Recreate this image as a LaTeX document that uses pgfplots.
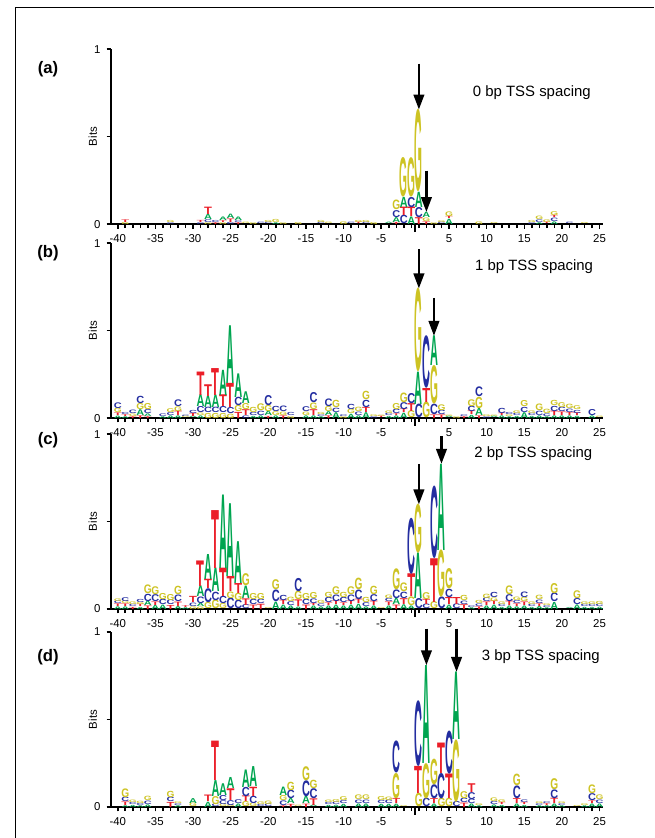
\documentclass[border=0pt]{standalone}
\usepackage{fontspec}
\setmainfont{Liberation Sans}
\usepackage{graphicx}
\usepackage{pgfplots}
\pgfplotsset{compat=1.18}
\usepackage{pgfplotstable}
\usetikzlibrary{arrows.meta}

\definecolor{cA}{RGB}{0,165,80}
\definecolor{cC}{RGB}{35,45,160}
\definecolor{cG}{RGB}{205,195,35}
\definecolor{cT}{RGB}{235,30,40}
\newcommand\logoA{\textcolor{cA}{A}}
\newcommand\logoC{\textcolor{cC}{C}}
\newcommand\logoG{\textcolor{cG}{G}}
\newcommand\logoT{\textcolor{cT}{T}}
\newlength\bitlen
\setlength\bitlen{3.5cm}
% letter/height -> letter stretched to height bits
\def\logoletter#1/#2\relax{\resizebox*{0.158cm}{#2\bitlen}{\bfseries\csname logo#1\endcsname}}

% columns: u = position index (-40..-1 -> 0..39, +1..+25 -> 40..64), b = base, h = height (bits), l = letter
\pgfplotstableread{
u b h l
1 0 0.012 G
1 0.012 0.015 T
7 0 0.01 C
7 0.01 0.012 G
11 0 0.01 C
11 0.01 0.012 T
12 0 0.01 G
12 0.01 0.016 C
12 0.026 0.03 A
12 0.056 0.042 T
13 0 0.01 T
13 0.01 0.012 C
14 0 0.01 G
14 0.01 0.01 T
14 0.02 0.02 A
15 0 0.012 C
15 0.012 0.02 T
15 0.032 0.025 A
16 0 0.01 T
16 0.01 0.01 C
16 0.02 0.02 A
17 0 0.008 G
18 0 0.01 G
19 0 0.008 C
20 0 0.008 C
20 0.008 0.012 G
21 0 0.01 A
21 0.01 0.018 G
22 0 0.01 G
24 0 0.012 G
27 0 0.008 C
27 0.008 0.012 G
28 0 0.008 G
30 0 0.015 G
31 0 0.008 C
32 0 0.008 T
32 0.008 0.012 G
33 0 0.008 C
33 0.008 0.012 G
34 0 0.012 G
36 0 0.008 A
37 0 0.012 T
37 0.012 0.028 A
37 0.04 0.04 C
37 0.08 0.055 G
38 0 0.048 C
38 0.048 0.048 T
38 0.096 0.058 A
38 0.154 0.226 G
39 0 0.043 A
39 0.043 0.054 T
39 0.097 0.058 C
39 0.155 0.225 G
40 0 0.039 T
40 0.039 0.058 C
40 0.097 0.087 A
40 0.184 0.471 G
41 0 0.015 T
41 0.015 0.02 G
41 0.035 0.03 A
42 0 0.01 G
43 0 0.008 C
43 0.008 0.01 G
44 0 0.03 A
44 0.03 0.012 T
44 0.042 0.027 G
48 0 0.015 G
50 0 0.006 G
55 0 0.01 C
55 0.01 0.012 G
56 0 0.01 A
56 0.01 0.015 C
56 0.025 0.02 G
57 0 0.008 T
57 0.008 0.015 G
58 0 0.015 A
58 0.015 0.02 C
58 0.035 0.012 T
58 0.047 0.022 G
60 0 0.008 C
62 0 0.006 G
}\dataA

\pgfplotstableread{
u b h l
0 0 0.014 A
0 0.014 0.015 T
0 0.029 0.025 G
0 0.054 0.033 C
1 0 0.01 A
1 0.01 0.01 T
1 0.02 0.012 C
2 0 0.01 T
2 0.01 0.014 G
2 0.024 0.02 C
3 0 0.015 T
3 0.015 0.033 A
3 0.048 0.035 G
3 0.083 0.042 C
4 0 0.01 T
4 0.01 0.015 A
4 0.025 0.023 C
4 0.048 0.035 G
6 0 0.01 A
6 0.01 0.015 C
7 0 0.015 A
7 0.015 0.017 C
7 0.032 0.022 G
8 0 0.015 A
8 0.015 0.025 T
8 0.04 0.027 G
8 0.067 0.039 C
9 0 0.008 G
9 0.008 0.008 C
10 0 0.008 A
10 0.008 0.018 T
10 0.026 0.018 C
11 0 0.015 A
11 0.015 0.014 G
11 0.029 0.035 C
11 0.064 0.067 A
11 0.131 0.134 T
12 0 0.029 G
12 0.029 0.031 C
12 0.06 0.065 A
12 0.125 0.067 T
13 0 0.029 G
13 0.029 0.031 C
13 0.06 0.071 A
13 0.131 0.154 T
14 0 0.029 G
14 0.029 0.035 C
14 0.064 0.067 T
14 0.131 0.144 A
15 0 0.025 G
15 0.025 0.035 C
15 0.06 0.138 T
15 0.198 0.33 A
16 0 0.035 T
16 0.035 0.035 G
16 0.07 0.048 C
16 0.118 0.135 A
17 0 0.015 C
17 0.015 0.033 T
17 0.048 0.035 G
17 0.083 0.067 A
18 0 0.012 A
18 0.012 0.018 C
18 0.03 0.03 G
19 0 0.015 A
19 0.015 0.025 C
19 0.04 0.039 G
20 0 0.012 T
20 0.012 0.025 A
20 0.037 0.035 G
20 0.072 0.058 C
21 0 0.015 A
21 0.015 0.022 G
21 0.037 0.03 C
22 0 0.015 T
22 0.015 0.02 G
22 0.035 0.032 C
23 0 0.012 G
23 0.012 0.018 C
25 0 0.015 A
25 0.015 0.02 G
25 0.035 0.028 C
26 0 0.015 A
26 0.015 0.033 T
26 0.048 0.038 G
26 0.086 0.058 C
27 0 0.01 A
27 0.01 0.01 C
27 0.02 0.012 G
28 0 0.015 T
28 0.015 0.022 A
28 0.037 0.029 G
28 0.066 0.044 C
29 0 0.033 A
29 0.033 0.025 C
29 0.058 0.042 G
30 0 0.01 G
30 0.01 0.01 C
31 0 0.024 A
31 0.024 0.025 G
31 0.049 0.03 C
32 0 0.015 A
32 0.015 0.02 C
32 0.035 0.025 G
33 0 0.033 A
33 0.033 0.029 T
33 0.062 0.042 C
33 0.104 0.048 G
34 0 0.01 C
34 0.01 0.01 G
35 0 0.008 T
35 0.008 0.008 G
36 0 0.012 A
36 0.012 0.013 C
36 0.025 0.015 G
37 0 0.015 A
37 0.015 0.01 T
37 0.025 0.025 C
37 0.05 0.035 G
38 0 0.03 A
38 0.03 0.02 T
38 0.05 0.04 C
38 0.09 0.055 G
39 0 0.04 G
39 0.04 0.045 T
39 0.085 0.058 C
40 0 0.078 C
40 0.078 0.185 A
40 0.263 0.478 G
41 0 0.09 G
41 0.09 0.08 T
41 0.17 0.3 C
42 0 0.02 T
42 0.02 0.06 C
42 0.08 0.22 G
42 0.3 0.17 A
43 0 0.02 T
43 0.02 0.025 C
43 0.045 0.033 G
44 0 0.008 A
44 0.008 0.008 G
45 0 0.01 G
46 0 0.01 T
46 0.01 0.01 C
47 0 0.018 A
47 0.018 0.02 T
47 0.038 0.03 C
47 0.068 0.039 G
48 0 0.015 T
48 0.015 0.04 A
48 0.055 0.065 G
48 0.12 0.056 C
49 0 0.01 C
49 0.01 0.01 G
50 0 0.008 A
50 0.008 0.008 G
51 0 0.015 A
51 0.015 0.013 T
51 0.028 0.03 C
52 0 0.01 A
52 0.01 0.01 G
52 0.02 0.012 C
53 0 0.012 A
53 0.012 0.013 C
53 0.025 0.015 G
54 0 0.033 A
54 0.033 0.03 C
54 0.063 0.035 G
55 0 0.012 A
55 0.012 0.013 C
55 0.025 0.015 G
56 0 0.015 A
56 0.015 0.025 C
56 0.04 0.038 G
57 0 0.01 A
57 0.01 0.015 C
57 0.025 0.025 G
58 0 0.015 A
58 0.015 0.025 T
58 0.04 0.03 C
58 0.07 0.03 G
59 0 0.015 A
59 0.015 0.02 T
59 0.035 0.025 C
59 0.06 0.028 G
60 0 0.015 A
60 0.015 0.018 T
60 0.033 0.02 C
60 0.053 0.025 G
61 0 0.013 A
61 0.013 0.015 T
61 0.028 0.018 C
61 0.046 0.022 G
63 0 0.015 A
63 0.015 0.035 C
64 0 0.008 G
}\dataB

\pgfplotstableread{
u b h l
0 0 0.015 A
0 0.015 0.015 T
0 0.03 0.015 C
0 0.045 0.015 G
1 0 0.015 A
1 0.015 0.015 T
1 0.03 0.015 G
1 0.045 0.022 C
2 0 0.012 T
2 0.012 0.013 C
2 0.025 0.015 G
3 0 0.012 A
3 0.012 0.013 T
3 0.025 0.012 G
3 0.037 0.018 C
4 0 0.02 T
4 0.02 0.025 A
4 0.045 0.042 C
4 0.087 0.05 G
5 0 0.023 A
5 0.023 0.02 T
5 0.043 0.04 C
5 0.083 0.045 G
6 0 0.025 A
6 0.025 0.03 C
6 0.055 0.035 G
7 0 0.023 T
7 0.023 0.028 C
7 0.051 0.035 G
8 0 0.017 A
8 0.017 0.025 T
8 0.042 0.038 C
8 0.08 0.048 G
9 0 0.01 A
9 0.01 0.01 T
10 0 0.015 G
10 0.015 0.02 C
10 0.035 0.035 T
11 0 0.014 G
11 0.014 0.018 A
11 0.032 0.038 C
11 0.07 0.061 A
11 0.131 0.146 T
12 0 0.035 G
12 0.035 0.08 C
12 0.115 0.053 T
12 0.168 0.143 A
13 0 0.05 G
13 0.05 0.048 C
13 0.098 0.134 A
13 0.232 0.331 T
14 0 0.029 G
14 0.029 0.042 C
14 0.071 0.162 T
14 0.233 0.42 A
15 0 0.061 C
15 0.061 0.038 G
15 0.099 0.086 T
15 0.185 0.416 A
16 0 0.048 C
16 0.048 0.042 G
16 0.09 0.057 T
16 0.147 0.239 A
17 0 0.023 C
17 0.023 0.038 T
17 0.061 0.071 A
17 0.132 0.069 G
18 0 0.025 T
18 0.025 0.03 C
18 0.055 0.035 G
19 0 0.03 T
19 0.03 0.025 C
19 0.055 0.035 G
20 0 0.006 G
21 0 0.042 A
21 0.042 0.067 C
21 0.109 0.057 G
22 0 0.025 A
22 0.025 0.025 T
22 0.05 0.03 C
23 0 0.02 A
23 0.02 0.022 C
23 0.042 0.025 G
24 0 0.014 A
24 0.014 0.038 T
24 0.052 0.048 G
24 0.1 0.076 C
25 0 0.025 T
25 0.025 0.03 C
25 0.055 0.035 G
26 0 0.02 A
26 0.02 0.012 T
26 0.032 0.027 C
26 0.059 0.035 G
27 0 0.015 A
27 0.015 0.015 C
27 0.03 0.018 G
28 0 0.02 A
28 0.02 0.015 T
28 0.035 0.03 C
28 0.065 0.03 G
29 0 0.025 A
29 0.025 0.02 T
29 0.045 0.038 C
29 0.083 0.045 G
30 0 0.02 A
30 0.02 0.015 T
30 0.035 0.03 C
30 0.065 0.03 G
31 0 0.025 A
31 0.025 0.02 T
31 0.045 0.038 C
31 0.083 0.045 G
32 0 0.03 A
32 0.03 0.025 T
32 0.055 0.055 C
32 0.11 0.066 G
33 0 0.015 A
33 0.015 0.022 C
33 0.037 0.03 G
34 0 0.02 A
34 0.02 0.025 T
34 0.045 0.04 C
34 0.085 0.048 G
35 0 0.006 G
36 0 0.02 A
36 0.02 0.02 T
36 0.04 0.018 C
36 0.058 0.02 G
37 0 0.025 T
37 0.025 0.035 A
37 0.06 0.05 C
37 0.11 0.12 G
38 0 0.027 A
38 0.027 0.033 T
38 0.06 0.037 C
38 0.097 0.05 G
39 0 0.02 A
39 0.02 0.05 G
39 0.07 0.13 T
39 0.2 0.32 C
40 0 0.058 C
40 0.058 0.26 A
40 0.318 0.28 G
41 0 0.026 C
41 0.026 0.03 T
41 0.056 0.04 G
42 0 0.04 G
42 0.04 0.25 T
42 0.29 0.414 C
43 0 0.067 C
43 0.067 0.27 G
43 0.337 0.493 A
44 0 0.025 A
44 0.025 0.04 T
44 0.065 0.048 C
44 0.113 0.116 G
45 0 0.027 C
45 0.027 0.04 T
46 0 0.027 T
46 0.027 0.02 C
46 0.047 0.03 G
47 0 0.01 A
47 0.01 0.01 C
48 0 0.015 T
48 0.015 0.015 C
48 0.03 0.018 G
49 0 0.02 A
49 0.02 0.02 T
49 0.04 0.022 C
49 0.062 0.025 G
50 0 0.025 A
50 0.025 0.02 T
50 0.045 0.021 G
50 0.066 0.03 C
51 0 0.012 A
51 0.012 0.013 C
51 0.025 0.015 G
52 0 0.02 A
52 0.02 0.025 T
52 0.045 0.04 C
52 0.085 0.05 G
53 0 0.015 A
53 0.015 0.015 T
53 0.03 0.017 C
53 0.047 0.02 G
54 0 0.02 A
54 0.02 0.02 T
54 0.04 0.024 G
54 0.064 0.032 C
55 0 0.012 A
55 0.012 0.013 C
55 0.025 0.015 G
56 0 0.017 A
56 0.017 0.015 T
56 0.032 0.02 C
56 0.052 0.025 G
57 0 0.01 A
57 0.01 0.01 C
57 0.02 0.01 G
58 0 0.04 A
58 0.04 0.05 C
58 0.09 0.058 G
60 0 0.006 A
61 0 0.026 A
61 0.026 0.035 C
61 0.061 0.045 G
62 0 0.012 A
62 0.012 0.013 C
62 0.025 0.015 G
63 0 0.012 A
63 0.012 0.013 C
63 0.025 0.015 G
64 0 0.013 A
64 0.013 0.014 C
64 0.027 0.018 G
}\dataC

\pgfplotstableread{
u b h l
1 0 0.01 A
1 0.01 0.02 T
1 0.03 0.025 C
1 0.055 0.05 G
2 0 0.012 A
2 0.012 0.012 C
2 0.024 0.014 G
3 0 0.01 A
3 0.01 0.012 C
3 0.022 0.013 G
4 0 0.015 A
4 0.015 0.02 C
4 0.035 0.025 G
7 0 0.029 T
7 0.029 0.025 C
7 0.054 0.036 G
8 0 0.01 A
8 0.01 0.01 C
8 0.02 0.01 G
10 0 0.02 G
10 0.02 0.028 A
12 0 0.03 A
12 0.03 0.037 T
13 0 0.015 C
13 0.015 0.046 G
13 0.061 0.091 A
13 0.152 0.225 T
14 0 0.015 G
14 0.015 0.022 C
14 0.037 0.029 C
14 0.066 0.067 A
15 0 0.01 G
15 0.01 0.028 C
15 0.038 0.067 T
15 0.105 0.063 A
16 0 0.02 A
16 0.02 0.022 C
17 0 0.029 G
17 0.029 0.032 T
17 0.061 0.053 C
17 0.114 0.1 A
18 0 0.02 G
18 0.02 0.042 C
18 0.062 0.053 T
18 0.115 0.114 A
19 0 0.012 C
19 0.012 0.015 G
20 0 0.015 C
20 0.015 0.02 G
22 0 0.01 T
22 0.01 0.027 C
22 0.037 0.029 G
22 0.066 0.048 A
23 0 0.018 T
23 0.018 0.029 A
23 0.047 0.048 C
23 0.095 0.048 G
24 0 0.008 G
25 0 0.019 T
25 0.019 0.042 A
25 0.061 0.091 C
25 0.152 0.08 G
26 0 0.009 A
26 0.009 0.038 T
26 0.047 0.057 C
26 0.104 0.048 G
28 0 0.012 A
28 0.012 0.012 C
28 0.024 0.014 G
29 0 0.013 A
29 0.013 0.015 C
29 0.028 0.017 G
30 0 0.018 A
30 0.018 0.017 C
30 0.035 0.022 G
32 0 0.02 A
32 0.02 0.02 C
32 0.04 0.027 G
33 0 0.02 A
33 0.02 0.02 C
33 0.04 0.027 G
35 0 0.018 A
35 0.018 0.018 C
35 0.036 0.023 G
36 0 0.018 A
36 0.018 0.02 C
36 0.038 0.02 G
37 0 0.019 A
37 0.019 0.029 T
37 0.048 0.145 G
37 0.193 0.183 C
38 0 0.005 G
40 0 0.077 G
40 0.077 0.155 T
40 0.232 0.375 C
41 0 0.048 C
41 0.048 0.202 G
41 0.25 0.56 A
42 0 0.02 A
42 0.02 0.028 T
42 0.048 0.08 C
42 0.128 0.147 G
43 0 0.048 G
43 0.048 0.145 C
43 0.193 0.174 T
44 0 0.048 G
44 0.048 0.14 T
44 0.188 0.246 C
45 0 0.029 C
45 0.029 0.357 G
45 0.386 0.386 A
46 0 0.025 T
46 0.025 0.025 C
46 0.05 0.04 G
47 0 0.02 A
47 0.02 0.025 C
47 0.045 0.04 C
47 0.085 0.05 T
48 0 0.01 A
48 0.01 0.01 G
50 0 0.015 A
50 0.015 0.018 C
50 0.033 0.021 G
51 0 0.012 A
51 0.012 0.012 T
51 0.024 0.015 G
53 0 0.02 A
53 0.02 0.028 T
53 0.048 0.073 C
53 0.121 0.066 G
54 0 0.012 A
54 0.012 0.012 T
54 0.024 0.015 C
56 0 0.01 A
56 0.01 0.01 C
56 0.02 0.01 G
57 0 0.01 A
57 0.01 0.01 T
57 0.02 0.01 C
58 0 0.02 A
58 0.02 0.03 T
58 0.05 0.05 C
58 0.1 0.063 G
59 0 0.01 A
59 0.01 0.01 C
59 0.02 0.01 G
61 0 0.006 G
62 0 0.01 A
62 0.01 0.01 G
63 0 0.02 A
63 0.02 0.015 T
63 0.035 0.04 C
63 0.075 0.05 G
64 0 0.02 A
64 0.02 0.02 C
64 0.04 0.027 G
}\dataD

% combined column m = letter/height, used as symbolic point meta
\pgfplotsset{/pgfplots/table/create col/assign/.code={%
  \getthisrow{l}\ltr \getthisrow{h}\hgt
  \edef\entry{\ltr/\hgt}%
  \pgfkeyslet{/pgfplots/table/create col/next content}\entry}}
\pgfplotstablecreatecol{m}{\dataA}
\pgfplotstablecreatecol{m}{\dataB}
\pgfplotstablecreatecol{m}{\dataC}
\pgfplotstablecreatecol{m}{\dataD}

\pgfplotsset{
  logo/.style={
    width=9.834cm, height=3.5cm, scale only axis,
    xmin=-0.9, xmax=64.4, ymin=0, ymax=1,
    axis lines*=left,
    axis line style={line width=1.1pt},
    clip=false,
    xtick={0,5,10,15,20,25,30,35,44,49,54,59,64},
    xticklabels={-40,-35,-30,-25,-20,-15,-10,-5,5,10,15,20,25},
    minor xtick={0,...,64},
    extra x ticks={39.5}, extra x tick labels={},
    extra x tick style={major tick length=4.5pt},
    ytick={0,0.5,1}, yticklabels={0,,1},
    tick align=outside,
    major tick length=2.5pt, minor tick length=2.3pt,
    tick style={black, line width=0.9pt},
    tick label style={font=\fontsize{6.5}{7}\selectfont},
    ylabel={Bits},
    every axis y label/.style={at={(axis description cs:-0.037,0.5)}, rotate=90, anchor=center, font=\fontsize{6.5}{7}\selectfont},
  },
  letters/.style={
    only marks, mark=none,
    point meta=explicit symbolic,
    nodes near coords={\expandafter\logoletter\pgfplotspointmeta\relax},
    every node near coord/.style={anchor=south, inner sep=0pt, outer sep=0pt},
  },
}
\tikzset{arr/.style={line width=1.3pt, -{Triangle[width=6pt,length=8.5pt]}}}

\begin{document}
\begin{tikzpicture}[x=0.02cm, y=0.02cm]
\path[use as bounding box] (0,0) rectangle (654,838);
\draw[line width=0.5pt] (15,0) -- (15,831) -- (654,831);
\node[font=\bfseries\fontsize{9.5}{11}\selectfont] at (48,769) {(a)};
\node[font=\bfseries\fontsize{9.5}{11}\selectfont] at (48,585) {(b)};
\node[font=\bfseries\fontsize{9.5}{11}\selectfont] at (48,398) {(c)};
\node[font=\bfseries\fontsize{9.5}{11}\selectfont] at (48,181) {(d)};

\begin{axis}[logo, at={(2.22cm,12.28cm)}, anchor=south west]
\addplot[letters] table[x=u, y=b, meta=m] {\dataA};
\draw[arr] (axis cs:40,0.917) -- (axis cs:40,0.655);
\draw[arr] (axis cs:41,0.305) -- (axis cs:41,0.069);
\node[font=\fontsize{8.5}{10}\selectfont] at (axis cs:55,0.753) {0 bp TSS spacing};
\end{axis}

\begin{axis}[logo, at={(2.22cm,8.40cm)}, anchor=south west]
\addplot[letters] table[x=u, y=b, meta=m] {\dataB};
\draw[arr] (axis cs:40,0.966) -- (axis cs:40,0.741);
\draw[arr] (axis cs:42,0.687) -- (axis cs:42,0.47);
\node[font=\fontsize{8.5}{10}\selectfont] at (axis cs:55.3,0.864) {1 bp TSS spacing};
\end{axis}

\begin{axis}[logo, at={(2.22cm,4.58cm)}, anchor=south west]
\addplot[letters] table[x=u, y=b, meta=m] {\dataC};
\draw[arr] (axis cs:40,0.83) -- (axis cs:40,0.598);
\draw[arr] (axis cs:43,0.99) -- (axis cs:43,0.83);
\node[font=\fontsize{8.5}{10}\selectfont] at (axis cs:55.2,0.888) {2 bp TSS spacing};
\end{axis}

\begin{axis}[logo, at={(2.22cm,0.62cm)}, anchor=south west]
\addplot[letters] table[x=u, y=b, meta=m] {\dataD};
\draw[arr] (axis cs:41,1.02) -- (axis cs:41,0.81);
\draw[arr] (axis cs:45,1.02) -- (axis cs:45,0.772);
\node[font=\fontsize{8.5}{10}\selectfont] at (axis cs:56.2,0.857) {3 bp TSS spacing};
\end{axis}
\end{tikzpicture}
\end{document}
